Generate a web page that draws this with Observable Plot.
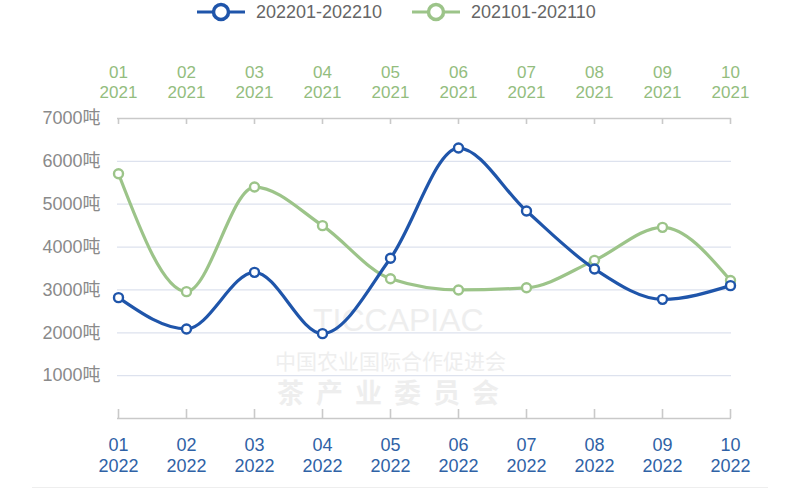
<!DOCTYPE html>
<html>
<head>
<meta charset="utf-8">
<script src="https://cdn.jsdelivr.net/npm/d3@7"></script>
<script src="https://cdn.jsdelivr.net/npm/@observablehq/plot@0.6"></script>
<style>
  html, body { margin: 0; padding: 0; background: #ffffff; }
  #wrap { position: relative; width: 800px; height: 494px; overflow: hidden;
          font-family: 'Liberation Sans', Arial, 'Noto Sans CJK SC', sans-serif; }
  #legend { position: absolute; left: 0; top: 0; width: 800px; height: 24px; z-index: 3; }
  .lg { position: absolute; top: 0; height: 24px; display: flex; align-items: center; }
  .lg span { font-size: 18px; color: #666666; margin-left: 10px; }
  .wm { position: absolute; color: #eeeeee; white-space: nowrap; z-index: 0; line-height: 1; }
  #chart { position: absolute; left: 0; top: 0; z-index: 2; }
  #foot { position: absolute; left: 32px; top: 487px; width: 736px; height: 1px; background: #eeeeee; }
</style>
</head>
<body>
<div id="wrap">
  <div class="wm" style="left:313px; top:304px; font-size:32px; font-family:'Liberation Sans',Arial,sans-serif;">TICCAPIAC</div>
  <div class="wm" style="left:275px; top:350px; font-size:21px; font-family:'Noto Sans CJK SC',sans-serif;">中国农业国际合作促进会</div>
  <div class="wm" style="left:277px; top:378px; font-size:27px; letter-spacing:12px; font-weight:bold; font-family:'Noto Sans CJK SC',sans-serif;">茶产业委员会</div>
  <div id="legend"></div>
  <div id="chart"></div>
  <div id="foot"></div>
</div>
<script>
// ---- data ----
const months = ["01","02","03","04","05","06","07","08","09","10"];
const yearNew = "2022";
const yearOld = "2021";
const seriesNames = ["202201-202210", "202101-202110"];
const seriesColors = ["#1f55aa", "#9cc489"];
const values2022 = [2820, 2090, 3410, 1980, 3740, 6310, 4840, 3490, 2780, 3100];
const values2021 = [5710, 2960, 5400, 4500, 3260, 3000, 3050, 3690, 4460, 3220];
const yTicks = [1000, 2000, 3000, 4000, 5000, 6000, 7000];
const yUnit = "吨";

// ---- legend (HTML) ----
const legend = document.getElementById("legend");
const legendLeft = [196, 411];
seriesNames.forEach((name, i) => {
  const item = document.createElement("div");
  item.className = "lg";
  item.style.left = legendLeft[i] + "px";
  item.innerHTML =
    `<svg width="50" height="24"><line x1="1" x2="49" y1="12" y2="12" stroke="${seriesColors[i]}" stroke-width="3"/>` +
    `<circle cx="25" cy="12" r="7.5" fill="#fff" stroke="${seriesColors[i]}" stroke-width="3.5"/></svg>` +
    `<span>${name}</span>`;
  legend.appendChild(item);
});

// ---- table ----
const rowsNew = months.map((m, i) => ({month: m, value: values2022[i], series: seriesNames[0]}));
const rowsOld = months.map((m, i) => ({month: m, value: values2021[i], series: seriesNames[1]}));

const chart = Plot.plot({
  width: 800,
  height: 494,
  marginLeft: 117,
  marginRight: 69,
  marginTop: 118,
  marginBottom: 76,
  style: {background: "transparent", fontFamily: "'Liberation Sans', Arial, 'Noto Sans CJK SC', sans-serif"},
  x: {type: "point", domain: months, padding: 0},
  y: {domain: [0, 7000]},
  color: {domain: seriesNames, range: seriesColors},
  marks: [
    Plot.gridY(yTicks.slice(0, -1), {stroke: "#dde2ee", strokeOpacity: 1, strokeWidth: 1.3}),
    Plot.ruleY([0, 7000], {stroke: "#c9c9c9", strokeWidth: 1.6}),
    Plot.ruleX(months, {x: d => d, y1: 0, y2: 0, insetBottom: 9, stroke: "#c9c9c9", strokeWidth: 1.6}),
    Plot.ruleX(months, {x: d => d, y1: 7000, y2: 7000, insetTop: 6, stroke: "#c9c9c9", strokeWidth: 1.6}),
    Plot.axisY(yTicks, {tickSize: 0, tickPadding: 17, tickFormat: d => d + yUnit, fontSize: 18, fill: "#8a8a8a", label: null}),
    Plot.axisX({anchor: "bottom", tickSize: 0, tickPadding: 17, tickFormat: d => d + "\n" + yearNew,
                fontSize: 18, lineHeight: 1.2, fill: "#2f62a6", label: null}),
    Plot.axisX({anchor: "top", tickSize: 0, tickPadding: 21, tickFormat: d => d + "\n" + yearOld,
                fontSize: 17, lineHeight: 1.15, fill: "#93bd7e", label: null}),
    Plot.line(rowsOld, {x: "month", y: "value", stroke: "series", curve: "monotone-x", strokeWidth: 3.2}),
    Plot.line(rowsNew, {x: "month", y: "value", stroke: "series", curve: "monotone-x", strokeWidth: 3.2}),
    Plot.dot(rowsOld, {x: "month", y: "value", stroke: "series", fill: "white", r: 4.5, strokeWidth: 2.4}),
    Plot.dot(rowsNew, {x: "month", y: "value", stroke: "series", fill: "white", r: 4.5, strokeWidth: 2.4})
  ]
});
document.getElementById("chart").appendChild(chart);
</script>
</body>
</html>
